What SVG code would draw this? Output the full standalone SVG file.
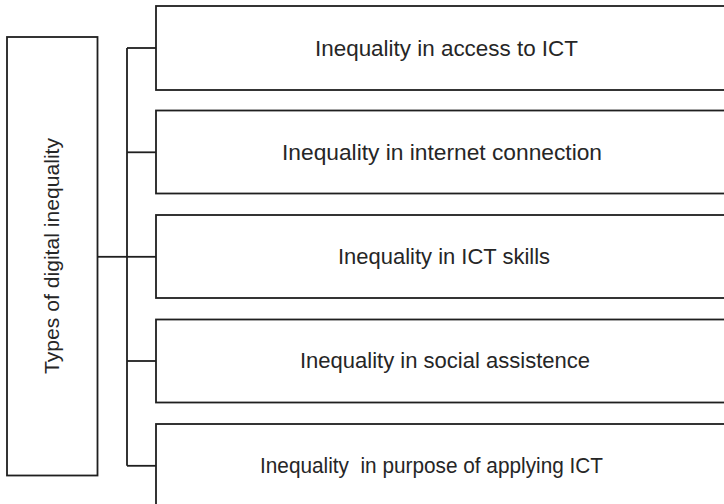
<svg xmlns="http://www.w3.org/2000/svg" width="724" height="504" viewBox="0 0 724 504">
  <style>
    .box { fill: #ffffff; stroke: #1f1f1f; stroke-width: 1.8; }
    .conn { fill: none; stroke: #1f1f1f; stroke-width: 1.8; }
    .lbl { font-family: "Liberation Sans", Arial, sans-serif; font-size: 22px; fill: #262626; text-anchor: middle; }
  </style>
  <rect width="724" height="504" fill="#ffffff"/>
  <g id="connectors">
    <path class="conn" d="M97.5,256.8 H127"/>
    <path class="conn" d="M127,48 V465.8"/>
    <path class="conn" d="M127,48 H156"/>
    <path class="conn" d="M127,152.3 H156"/>
    <path class="conn" d="M127,256.8 H156"/>
    <path class="conn" d="M127,361 H156"/>
    <path class="conn" d="M127,465.8 H156"/>
  </g>
  <g id="root">
    <rect class="box" x="7" y="37" width="90.5" height="438.5"/>
    <text class="lbl" font-size="21" transform="translate(59,256) rotate(-90)" textLength="236" lengthAdjust="spacingAndGlyphs" style="font-size:21px">Types of digital inequality</text>
  </g>
  <g id="n1">
    <rect class="box" x="156" y="6" width="590" height="84"/>
    <text class="lbl" x="446.5" y="55.5" textLength="263" lengthAdjust="spacingAndGlyphs">Inequality in access to ICT</text>
  </g>
  <g id="n2">
    <rect class="box" x="156" y="110.5" width="590" height="83"/>
    <text class="lbl" x="442" y="159.5" textLength="320" lengthAdjust="spacingAndGlyphs">Inequality in internet connection</text>
  </g>
  <g id="n3">
    <rect class="box" x="156" y="215" width="590" height="83"/>
    <text class="lbl" x="444" y="263.5" textLength="212" lengthAdjust="spacingAndGlyphs">Inequality in ICT skills</text>
  </g>
  <g id="n4">
    <rect class="box" x="156" y="319.5" width="590" height="83"/>
    <text class="lbl" x="445" y="368" textLength="290" lengthAdjust="spacingAndGlyphs">Inequality in social assistence</text>
  </g>
  <g id="n5">
    <rect class="box" x="156" y="424" width="590" height="84"/>
    <text class="lbl" x="431.5" y="472.5" xml:space="preserve" textLength="343" lengthAdjust="spacingAndGlyphs">Inequality  in purpose of applying ICT</text>
  </g>
</svg>
